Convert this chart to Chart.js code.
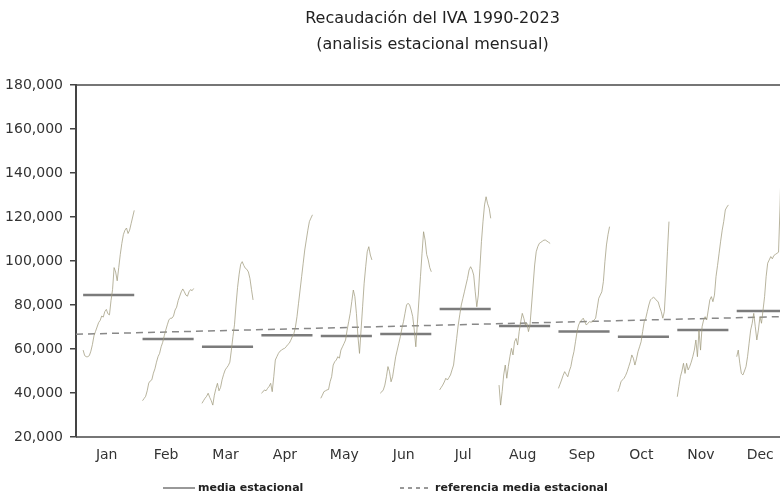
<!DOCTYPE html>
<html>
<head>
<meta charset="utf-8">
<title>Recaudación del IVA 1990-2023</title>
<script src="https://cdn.jsdelivr.net/npm/chart.js@4.4.0/dist/chart.umd.min.js"></script>
<style>
  html, body { margin: 0; padding: 0; background: #fff; overflow: hidden; }
  #wrap { width: 800px; height: 500px; }
</style>
</head>
<body>
<div id="wrap"><canvas id="ivaChart" width="800" height="500"></canvas></div>
<script>
// IVA collection 1990-2023, one value per year for each month (thousands)
const months = ['Jan', 'Feb', 'Mar', 'Apr', 'May', 'Jun', 'Jul', 'Aug', 'Sep', 'Oct', 'Nov', 'Dec'];

const ivaJan = [59.5, 57, 56.5, 56.5, 57, 59, 62, 66, 68, 70, 72, 73, 75, 74.5, 77, 78, 76, 75.5, 82, 87,
  97, 95, 91, 97, 103, 108, 112, 114, 115, 112.5, 114, 117, 120, 123];
const ivaFeb = [36.5, 37.5, 38.5, 41, 44.5, 45.5, 46, 49, 51, 54, 56.5, 58, 61, 63, 66, 68.6, 71, 73.2, 74, 74,
  75, 77.7, 79, 82, 84, 86, 87.3, 86, 84.5, 84, 86, 87, 86.5, 87.5];
const ivaMar = [35.3, 36.5, 37.6, 38.5, 39.9, 38, 36.5, 34.5, 39, 42, 44.4, 41, 42.5, 46, 48.5, 50.5, 51.5, 52.5, 54, 59.5,
  65.6, 71, 80, 88, 94, 98.5, 99.7, 98, 96.7, 96.2, 95, 92, 87, 82.3];
const ivaApr = [39.9, 40.5, 41.4, 41, 42.1, 43, 44.4, 40.6, 47.4, 55, 56.5, 58, 59, 59.5, 60, 60.3, 61, 62, 62.6, 64,
  65.6, 67, 70, 74.7, 80.8, 86.8, 92.9, 99, 105, 109.5, 114, 117.9, 119.5, 121];
const ivaMay = [37.6, 39, 40.6, 41, 41.4, 41.6, 45.1, 47.4, 52.7, 54.2, 55, 56.5, 55.8, 59.5, 61, 62.5, 64.1, 68.6, 72.4, 76.2,
  81.5, 86.8, 83.8, 76.2, 65.6, 58, 68.6, 79.2, 89.9, 97.4, 104.2, 106.5, 102.7, 100.5];
const ivaJun = [39.9, 40.5, 41.4, 43.6, 47.4, 52, 49.7, 45.1, 47.4, 52, 56.5, 59.5, 62.6, 65.6, 69.4, 72.4, 76.2, 80, 80.8, 80,
  77.7, 74.7, 68.6, 61, 71.7, 82.3, 92.9, 103.5, 113.3, 109.5, 103, 100.5, 97, 95.1];
const ivaJul = [41.4, 42.5, 43.6, 45, 46.7, 45.9, 47, 48.2, 50.5, 52.7, 58.8, 64.8, 70.9, 75.5, 80, 83, 86, 89.1, 92.1, 95.9,
  97.4, 96, 93.6, 86, 79.2, 84.5, 96.7, 108.8, 117.9, 125.5, 129.2, 126, 124, 119.4];
const ivaAug = [43.6, 34.5, 40.6, 48.2, 52.7, 46.7, 52, 56.5, 60.3, 57.3, 63.3, 64.8, 61.8, 67.9, 72.4, 76.2, 74, 70.9, 71.7, 67.9,
  71, 80, 89.1, 98.2, 104.2, 106.5, 108, 108.5, 109, 109.5, 109.5, 109, 108.5, 108];
const ivaSep = [42.1, 44, 45.9, 48, 49.7, 48.5, 47.4, 50, 52, 55.8, 58.8, 63.3, 67.9, 70.9, 72.4, 73.2, 74, 72.4, 70.9, 71.7,
  72.4, 72.2, 72.4, 73.2, 74, 78.5, 83, 84.5, 86, 90.6, 99.7, 107.3, 112, 115.6];
const ivaOct = [40.6, 42.5, 45.1, 46, 46.7, 48, 49.7, 52, 54.2, 57.3, 55.8, 52.7, 55.5, 58.8, 61, 63.3, 67.9, 72.4, 74, 77,
  80, 82.3, 83, 83.5, 83, 82, 81.5, 79, 77, 74, 77, 89.1, 104.2, 117.9];
const ivaNov = [38.3, 43, 47.4, 50, 53.5, 48.9, 53.5, 50.5, 52, 54, 56.5, 59.5, 64.1, 56.5, 68.6, 59.5, 70.1, 73.2, 74.7, 73.2,
  77.7, 82.3, 83.8, 81.5, 84.5, 92.9, 98, 103.5, 109, 114, 118, 123.2, 124.5, 125.5];
const ivaDec = [56.5, 59.5, 53.5, 48.9, 48.2, 50, 52, 56.5, 62.6, 68.6, 71.7, 76.2, 70.1, 64.1, 68.6, 74.7, 71.7, 77.7, 83.8, 92.9,
  99, 100.5, 102, 101, 102.5, 103, 103.5, 104, 125, 155, 160, 165, 168, 170];

// media estacional per month, and the dashed reference line (start, end)
const seasonalMeans = [84.5, 64.5, 61, 66.2, 65.9, 66.8, 78.2, 70.5, 67.9, 65.6, 68.6, 77.3];
const referenceMean = [66.7, 74.8];

const yTicks = [20000, 40000, 60000, 80000, 100000, 120000, 140000, 160000, 180000];
const titleLines = ['Recaudación del IVA 1990-2023', '(analisis estacional mensual)'];

const monthlySeries = [ivaJan, ivaFeb, ivaMar, ivaApr, ivaMay, ivaJun, ivaJul, ivaAug, ivaSep, ivaOct, ivaNov, ivaDec];

const FONT = '"DejaVu Sans", "Liberation Sans", Arial, sans-serif';
const xMin = -0.55, xMax = 11.45, halfWidth = 0.43;

const datasets = [];
monthlySeries.forEach((vals, m) => {
    datasets.push({
        label: months[m],
        data: vals.map((v, i) => ({ x: m - halfWidth + i * 2 * halfWidth / (vals.length - 1), y: v * 1000 })),
        borderColor: 'rgba(160,155,125,0.75)',
        borderWidth: 1,
        pointRadius: 0,
        tension: 0
    });
});
seasonalMeans.forEach((v, m) => {
    datasets.push({
        label: 'media estacional',
        data: [{ x: m - halfWidth, y: v * 1000 }, { x: m + halfWidth, y: v * 1000 }],
        borderColor: '#7b7b7b',
        borderWidth: 2.5,
        pointRadius: 0
    });
});
datasets.push({
    label: 'referencia media estacional',
    data: [{ x: xMin, y: referenceMean[0] * 1000 }, { x: xMax, y: referenceMean[1] * 1000 }],
    borderColor: '#888',
    borderWidth: 1.5,
    borderDash: [7, 5],
    pointRadius: 0
});

// box round the plot area
const frame = {
    id: 'frame',
    afterDraw(chart) {
        const { ctx, chartArea: a } = chart;
        ctx.save();
        ctx.strokeStyle = '#4a4a4a';
        ctx.lineWidth = 1.5;
        ctx.beginPath();
        ctx.moveTo(a.left, a.top);
        ctx.lineTo(a.right, a.top);
        ctx.lineTo(a.right, a.bottom);
        ctx.lineTo(a.left, a.bottom);
        ctx.stroke();
        ctx.restore();
    }
};

// title centred over the plot area, as in the original graph
const plotTitle = {
    id: 'plotTitle',
    afterDraw(chart) {
        const { ctx, chartArea: a } = chart;
        const cx = (a.left + a.right) / 2;
        ctx.save();
        ctx.font = '16px ' + FONT;
        ctx.fillStyle = '#222';
        ctx.textAlign = 'center';
        ctx.textBaseline = 'middle';
        titleLines.forEach((t, i) => ctx.fillText(t, cx, 19 + i * 26));
        ctx.restore();
    }
};

// legend drawn under the month labels
const seasonalLegend = {
    id: 'seasonalLegend',
    afterDraw(chart) {
        const { ctx, chartArea: a } = chart;
        const y = a.bottom + 51;
        const items = [
            { text: 'media estacional', dash: [], x: a.left + 87 },
            { text: 'referencia media estacional', dash: [4, 4], x: a.left + 324 }
        ];
        ctx.save();
        ctx.font = 'bold 11px ' + FONT;
        ctx.fillStyle = '#222';
        ctx.textBaseline = 'middle';
        items.forEach(it => {
            ctx.strokeStyle = '#333';
            ctx.lineWidth = 1;
            ctx.setLineDash(it.dash);
            ctx.beginPath();
            ctx.moveTo(it.x, y);
            ctx.lineTo(it.x + 32, y);
            ctx.stroke();
            ctx.fillText(it.text, it.x + 35, y);
        });
        ctx.restore();
    }
};

const ctx = document.getElementById('ivaChart').getContext('2d');
const ivaChart = new Chart(ctx, {
    type: 'line',
    data: { datasets: datasets },
    options: {
        responsive: false,
        animation: false,
        devicePixelRatio: 1,
        layout: { padding: { left: 0, right: 11, top: 85, bottom: 30 } },
        scales: {
            x: {
                type: 'linear',
                min: xMin,
                max: xMax,
                afterBuildTicks: s => { s.ticks = months.map((_, i) => ({ value: i })); },
                afterFit: s => { s.height = 33; },
                grid: { display: false, drawTicks: false, tickLength: 0 },
                border: { display: false },
                ticks: {
                    autoSkip: false,
                    maxRotation: 0,
                    padding: 10,
                    labelOffset: -2,
                    color: '#333',
                    font: { family: FONT, size: 14 },
                    callback: v => months[v]
                }
            },
            y: {
                min: 20000,
                max: 180000,
                afterBuildTicks: s => { s.ticks = yTicks.map(v => ({ value: v })); },
                afterFit: s => { s.width = 76; },
                grid: { drawOnChartArea: false, tickLength: 6, color: '#444', lineWidth: 1.5 },
                border: { display: true, color: '#444', width: 2 },
                ticks: {
                    padding: 7,
                    color: '#333',
                    font: { family: FONT, size: 14 },
                    callback: v => v.toLocaleString('en-US')
                }
            }
        },
        plugins: {
            legend: { display: false },
            tooltip: { enabled: false },
            title: { display: false }
        }
    },
    plugins: [frame, plotTitle, seasonalLegend]
});
</script>
</body>
</html>
